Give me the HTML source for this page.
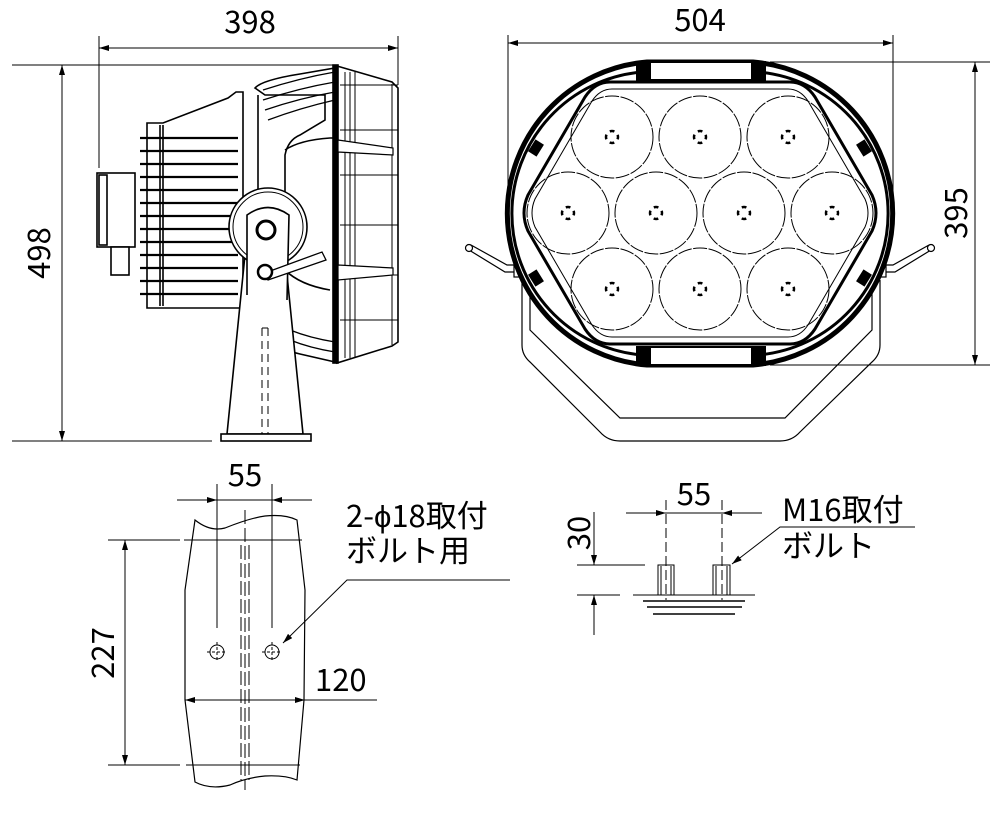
<!DOCTYPE html>
<html><head><meta charset="utf-8"><style>
html,body{margin:0;padding:0;background:#fff}
svg{display:block}
text{font-family:"Noto Sans CJK JP","Liberation Sans",sans-serif;fill:#000}
</style></head><body>
<svg width="1000" height="840" viewBox="0 0 1000 840" xmlns="http://www.w3.org/2000/svg">
<defs>
<marker id="a" viewBox="0 0 10 6" refX="10" refY="3" markerWidth="10" markerHeight="6" markerUnits="userSpaceOnUse" orient="auto-start-reverse"><path d="M0,0L10,3L0,6z" fill="#000"/></marker>
</defs>
<g stroke="#000" fill="none" stroke-width="1">
<line x1="99" y1="36" x2="99" y2="168"/>
<line x1="398" y1="36" x2="398" y2="85"/>
<line x1="99" y1="48" x2="398" y2="48" marker-start="url(#a)" marker-end="url(#a)"/>
<line x1="12" y1="65" x2="335" y2="65"/>
<line x1="12" y1="441" x2="212" y2="441"/>
<line x1="62" y1="65" x2="62" y2="441" marker-start="url(#a)" marker-end="url(#a)"/>
</g>
<text x="250" y="33" font-size="31" text-anchor="middle">398</text>
<text transform="translate(50,253) rotate(-90)" font-size="31" text-anchor="middle">498</text>

<!-- side view -->
<g stroke="#000" fill="#fff" stroke-width="1.6">
<path d="M147,123 L163,123 L228,98 L236,92 L243,92 L243,308 L147,308 Z"/>
<g stroke-width="2.2">
<line x1="140" y1="138" x2="238" y2="138"/><line x1="140" y1="151" x2="238" y2="151"/>
<line x1="140" y1="164" x2="238" y2="164"/><line x1="140" y1="177" x2="238" y2="177"/>
<line x1="140" y1="190" x2="238" y2="190"/><line x1="140" y1="203" x2="238" y2="203"/>
<line x1="140" y1="216" x2="238" y2="216"/><line x1="140" y1="229" x2="238" y2="229"/>
<line x1="140" y1="242" x2="238" y2="242"/><line x1="140" y1="255" x2="238" y2="255"/>
<line x1="140" y1="268" x2="238" y2="268"/><line x1="140" y1="281" x2="238" y2="281"/>
<line x1="140" y1="294" x2="238" y2="294"/>
</g>
<line x1="160" y1="125" x2="160" y2="306"/>
<line x1="163" y1="125" x2="163" y2="306"/>
<rect x="97" y="173" width="38" height="74"/>
<rect x="99" y="175" width="8" height="70"/>
<rect x="111" y="247" width="18" height="28"/>
<path d="M255,88 Q262,80 300,74 L335,68 L335,362 L300,354 Q262,345 258,330 L258,300 Q285,290 285,270 L285,155 Q288,140 300,135 L325,120 L325,95 L265,95 Z"/>
<path d="M258,95 L258,330" />
<path d="M285,150 Q300,140 330,138 L335,138 M285,270 Q300,285 330,290" fill="none"/>
<path d="M263,90 Q300,78 335,72 M263,100 Q300,88 335,82 M265,110 Q300,98 335,92 M268,120 Q300,108 335,100 M290,340 Q310,348 335,352 M290,330 Q310,338 335,342" fill="none" stroke-width="1.3"/>
<path d="M337,66 L392,82 L398,88 L398,342 L392,346 L337,363 Z"/>
<rect x="333" y="65" width="5" height="298" fill="#000"/>
<g stroke-width="1" fill="none">
<line x1="340" y1="85" x2="398" y2="85"/><line x1="340" y1="130" x2="398" y2="130"/>
<line x1="340" y1="175" x2="398" y2="175"/><line x1="340" y1="225" x2="398" y2="225"/>
<line x1="340" y1="275" x2="398" y2="275"/><line x1="340" y1="320" x2="398" y2="320"/>
<line x1="345" y1="72" x2="345" y2="358"/><line x1="350" y1="72" x2="350" y2="358"/>
<line x1="355" y1="72" x2="355" y2="358"/><line x1="392" y1="84" x2="392" y2="345"/>
</g>
<path d="M338,140 L393,148 L393,155 L338,152 Z M338,265 L393,268 L393,275 L338,280 Z" stroke-width="1.2"/>
<path d="M247,235 L283,235 L303,434 L227,434 Z"/>
<rect x="221" y="434" width="90" height="7"/>
<line x1="227" y1="434" x2="303" y2="434" stroke-dasharray="8,5" stroke-width="1"/>
<path d="M262,328 L262,434 M268,328 L268,434 M262,328 L268,328" stroke-dasharray="8,5" stroke-width="1" fill="none"/>
<circle cx="268" cy="227" r="39"/>
<circle cx="268" cy="227" r="35" fill="none" stroke-width="1"/>
<path d="M247,295 L247,215 Q268,200 289,215 L287,300"/>
<circle cx="266" cy="230" r="9" stroke-width="3"/>
<path d="M262,274 L322,252 L326,260 L268,280 Z" stroke-width="1.3"/>
<circle cx="265" cy="272" r="7" stroke-width="2.5"/>
</g>

<!-- front view dims -->
<g stroke="#000" fill="none" stroke-width="1">
<line x1="508" y1="35" x2="508" y2="212"/>
<line x1="893" y1="35" x2="893" y2="222"/>
<line x1="508" y1="43" x2="893" y2="43" marker-start="url(#a)" marker-end="url(#a)"/>
<line x1="770" y1="62" x2="990" y2="62"/>
<line x1="770" y1="365" x2="990" y2="365"/>
<line x1="975" y1="62" x2="975" y2="365" marker-start="url(#a)" marker-end="url(#a)"/>
</g>
<text x="700" y="31" font-size="31" text-anchor="middle">504</text>
<text transform="translate(967,213) rotate(-90)" font-size="31" text-anchor="middle">395</text>

<g stroke="#000" fill="none">
<path d="M522,280 L522,345 Q522,355 530,362 L600,432 Q608,441 620,441 L780,441 Q792,441 800,432 L872,362 Q880,355 880,345 L880,280" stroke-width="1.2"/>
<path d="M530,280 L530,330 L620,418 L785,418 L872,330 L872,280" stroke-width="1.2"/>
<path d="M469,250 L505,272 L515,272 M471,245 L507,265 L515,265" stroke-width="1.2"/>
<circle cx="469" cy="248" r="3.5" fill="#fff" stroke-width="1.2"/>
<path d="M931,250 L895,272 L885,272 M929,245 L893,265 L885,265" stroke-width="1.2"/>
<circle cx="931" cy="248" r="3.5" fill="#fff" stroke-width="1.2"/>
<rect x="514" y="263" width="6" height="14" fill="#fff" stroke-width="1.2"/>
<rect x="880" y="263" width="6" height="14" fill="#fff" stroke-width="1.2"/>
<!-- outer ring -->
<path d="M647,62 L753,62 A152,152 0 0 1 753,365 L647,365 A152,152 0 0 1 647,62 Z" stroke-width="5" fill="#fff"/>
<path d="M642,72 L758,72 A142,142 0 0 1 758,355 L642,355 A142,142 0 0 1 642,72 Z" stroke-width="3"/>
<rect x="637" y="62" width="128" height="18" stroke-width="2" fill="#fff"/>
<rect x="637" y="347" width="128" height="18" stroke-width="2" fill="#fff"/>
<!-- inner hexagon -->
<path d="M610,82 L790,82 Q805,82 815,97 L872,195 Q880,213 872,231 L815,329 Q805,344 790,344 L610,344 Q595,344 585,329 L528,231 Q520,213 528,195 L585,97 Q595,82 610,82 Z" stroke-width="3" fill="#fff"/>
<path d="M612,89 L788,89 Q800,89 808,101 L865,199 Q871,213 865,227 L808,325 Q800,337 788,337 L612,337 Q600,337 592,325 L535,227 Q529,213 535,199 L592,101 Q600,89 612,89 Z" stroke-width="1"/>
<g fill="#000" stroke="none">
<rect x="637" y="62" width="14" height="18"/><rect x="751" y="62" width="14" height="18"/>
<rect x="637" y="347" width="14" height="18"/><rect x="751" y="347" width="14" height="18"/>
<rect x="529" y="143" width="14" height="10" transform="rotate(-58 536 148)"/>
<rect x="857" y="143" width="14" height="10" transform="rotate(58 864 148)"/>
<rect x="529" y="273" width="14" height="10" transform="rotate(58 536 278)"/>
<rect x="857" y="273" width="14" height="10" transform="rotate(-58 864 278)"/>
</g>
<g stroke-width="1" stroke-dasharray="14,1.5">
<circle cx="612" cy="137" r="41"/><circle cx="700" cy="137" r="41"/><circle cx="788" cy="137" r="41"/>
<circle cx="568" cy="213" r="41"/><circle cx="656" cy="213" r="41"/><circle cx="744" cy="213" r="41"/><circle cx="832" cy="213" r="41"/>
<circle cx="612" cy="289" r="41"/><circle cx="700" cy="289" r="41"/><circle cx="788" cy="289" r="41"/>
</g>
<g stroke-width="2.5" stroke-dasharray="4.7,4.7" stroke-dashoffset="2.35">
<circle cx="612" cy="137" r="6"/><circle cx="700" cy="137" r="6"/><circle cx="788" cy="137" r="6"/>
<circle cx="568" cy="213" r="6"/><circle cx="656" cy="213" r="6"/><circle cx="744" cy="213" r="6"/><circle cx="832" cy="213" r="6"/>
<circle cx="612" cy="289" r="6"/><circle cx="700" cy="289" r="6"/><circle cx="788" cy="289" r="6"/>
</g>
</g>

<!-- bottom-left detail -->
<g stroke="#000" fill="none" stroke-width="1">
<line x1="217" y1="484" x2="217" y2="628"/>
<line x1="272" y1="484" x2="272" y2="628"/>
<line x1="177" y1="500" x2="217" y2="500" marker-end="url(#a)"/>
<line x1="217" y1="500" x2="272" y2="500"/>
<line x1="312" y1="500" x2="272" y2="500" marker-end="url(#a)"/>
<path d="M195,520 Q210,532 225,528 Q250,518 265,516 Q285,514 297,520 L305,590 L304,700 L297,780 Q285,775 265,776 Q245,778 230,785 Q210,790 195,782 L185,700 L185,590 Z" stroke-width="1.2"/>
<line x1="108" y1="540" x2="180" y2="540"/>
<line x1="184" y1="540" x2="302" y2="540"/>
<line x1="108" y1="765" x2="180" y2="765"/>
<line x1="186" y1="765" x2="300" y2="765"/>
<line x1="125" y1="540" x2="125" y2="765" marker-start="url(#a)" marker-end="url(#a)"/>
<line x1="185" y1="700" x2="377" y2="700"/>
<line x1="185" y1="700" x2="230" y2="700" marker-start="url(#a)"/>
<line x1="260" y1="700" x2="305" y2="700" marker-end="url(#a)"/>
<path d="M245,510 L245,790 M241,545 L241,780 M249,545 L249,780" stroke-dasharray="14,4"/>
<circle cx="217" cy="652" r="7"/><circle cx="272" cy="652" r="7"/>
<path d="M207,652 L227,652 M217,642 L217,662 M262,652 L282,652 M272,642 L272,662" stroke-dasharray="3,2"/>
<path d="M510,580 L347,580 L283,643" marker-end="url(#a)"/>
</g>
<text x="245" y="486" font-size="31" text-anchor="middle">55</text>
<text x="315" y="691" font-size="31">120</text>
<text transform="translate(114,653) rotate(-90)" font-size="31" text-anchor="middle">227</text>
<text x="346" y="527" font-size="31">2-ϕ18取付</text>
<text x="346" y="562" font-size="31">ボルト用</text>

<!-- bottom-right detail -->
<g stroke="#000" fill="none" stroke-width="1">
<line x1="666" y1="500" x2="666" y2="600" stroke-dasharray="10,4"/>
<line x1="722" y1="500" x2="722" y2="600" stroke-dasharray="10,4"/>
<line x1="626" y1="513" x2="666" y2="513" marker-end="url(#a)"/>
<line x1="666" y1="513" x2="722" y2="513"/>
<line x1="762" y1="513" x2="722" y2="513" marker-end="url(#a)"/>
<line x1="577" y1="565" x2="645" y2="565"/>
<line x1="577" y1="595" x2="620" y2="595"/>
<line x1="594" y1="512" x2="594" y2="565" marker-end="url(#a)"/>
<line x1="594" y1="635" x2="594" y2="595" marker-end="url(#a)"/>
<rect x="658" y="565" width="16" height="30"/>
<rect x="713" y="565" width="17" height="30"/>
<line x1="661" y1="566" x2="661" y2="595"/><line x1="671" y1="566" x2="671" y2="595"/>
<line x1="716" y1="566" x2="716" y2="595"/><line x1="727" y1="566" x2="727" y2="595"/>
<line x1="633" y1="595" x2="755" y2="595"/>
<line x1="643" y1="601" x2="745" y2="601" stroke-width="1.5"/>
<line x1="647" y1="607" x2="742" y2="607" stroke-width="1.5"/>
<line x1="653" y1="614" x2="735" y2="614" stroke-width="1.5"/>
<path d="M915,527 L780,527 L732,564" marker-end="url(#a)"/>
</g>
<text x="694" y="505" font-size="31" text-anchor="middle">55</text>
<text transform="translate(590,533) rotate(-90)" font-size="31" text-anchor="middle">30</text>
<text x="782" y="521" font-size="31">M16取付</text>
<text x="782" y="557" font-size="31">ボルト</text>
</svg>
</body></html>
